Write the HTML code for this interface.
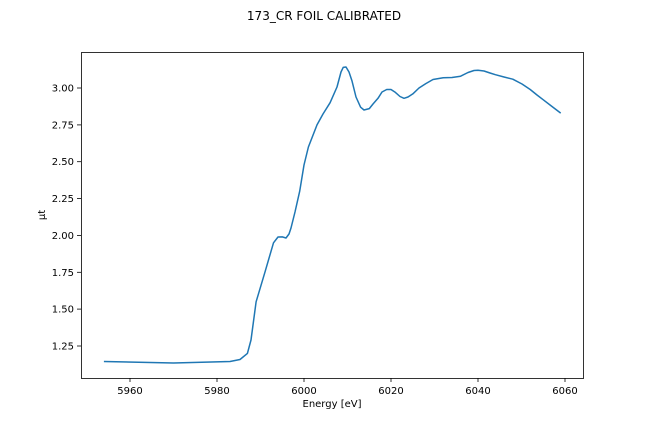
<!DOCTYPE html>
<html><head><style>body{margin:0;background:#fff}</style></head><body>
<svg width="648" height="432" xmlns="http://www.w3.org/2000/svg" font-family="'DejaVu Sans','Liberation Sans',sans-serif" font-size="10">
<rect width="648" height="432" fill="#fff"/>
<text x="324" y="20" text-anchor="middle" font-size="12">173_CR FOIL CALIBRATED</text>
<polyline fill="none" stroke="#1f77b4" stroke-width="1.5" stroke-linejoin="round" points="103.9,361.5 173.5,363 230,361.5 240,359.5 247.4,353.4 251,340 256.1,301.8 264.9,272.3 273.5,242.8 278,237 282.3,236.9 286,238 289,234 291,228 295,212 299.7,191.2 304,165 308.4,147 317,124.9 323,114 330.1,102.7 337,87 341,72 343.2,67.4 346,67 349,72 351.9,80.6 356,97 360.6,107.2 364,110 369.3,108.6 373,104 378,98.3 382,92 386.7,89.5 391,89.5 395.4,92.4 400,96.5 404,98.3 408,97 412.8,93.9 419,88 425.8,83.6 433,79.5 443.2,77.7 452,77.5 460.6,76.2 468,72.5 474,70.5 478,70.3 484,71 490,73 495.4,74.7 504,77 512.8,79.2 522,84 530.2,89.5 537,95 543.3,99.8 552,106.5 560.7,113.1"/>
<rect x="81.5" y="52.5" width="502" height="326" fill="none" stroke="#000" stroke-width="0.8"/>
<g stroke="#000" stroke-width="0.8">
<line x1="130" y1="378" x2="130" y2="382"/><line x1="217" y1="378" x2="217" y2="382"/><line x1="304" y1="378" x2="304" y2="382"/><line x1="391" y1="378" x2="391" y2="382"/><line x1="478" y1="378" x2="478" y2="382"/><line x1="565" y1="378" x2="565" y2="382"/>
<line x1="77" y1="88" x2="81" y2="88"/><line x1="77" y1="124.9" x2="81" y2="124.9"/><line x1="77" y1="161.7" x2="81" y2="161.7"/><line x1="77" y1="198.6" x2="81" y2="198.6"/><line x1="77" y1="235.4" x2="81" y2="235.4"/><line x1="77" y1="272.3" x2="81" y2="272.3"/><line x1="77" y1="309.1" x2="81" y2="309.1"/><line x1="77" y1="346" x2="81" y2="346"/>
</g>
<g text-anchor="middle">
<text x="130" y="394">5960</text><text x="217" y="394">5980</text><text x="304" y="394">6000</text><text x="391" y="394">6020</text><text x="478" y="394">6040</text><text x="565" y="394">6060</text>
<text x="332" y="407">Energy [eV]</text>
</g>
<g text-anchor="end">
<text x="74" y="91.5">3.00</text><text x="74" y="128.4">2.75</text><text x="74" y="165.2">2.50</text><text x="74" y="202.1">2.25</text><text x="74" y="238.9">2.00</text><text x="74" y="275.8">1.75</text><text x="74" y="312.6">1.50</text><text x="74" y="349.5">1.25</text>
</g>
<text x="45" y="215" text-anchor="middle" transform="rotate(-90 45 215)">μt</text>
</svg>
</body></html>
